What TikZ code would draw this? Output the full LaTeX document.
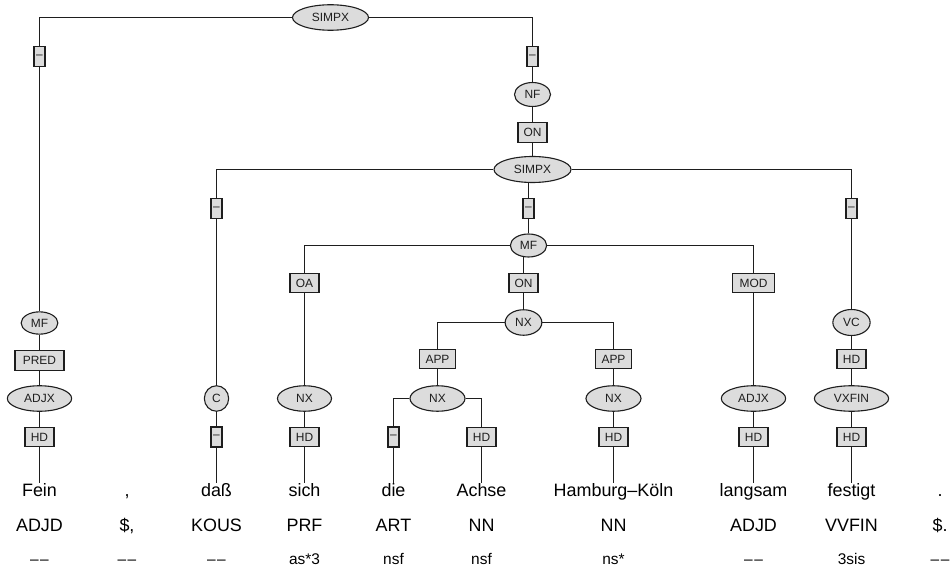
\documentclass[tikz,border=0pt]{standalone}
\usepackage{fontspec}
\setmainfont{Liberation Sans}
\usetikzlibrary{shapes.geometric,backgrounds}
\definecolor{nodefill}{RGB}{220,220,220}
\definecolor{ink}{RGB}{30,30,30}
\tikzset{
  cat/.style={ellipse, draw=ink, fill=nodefill, line width=1.1bp, inner sep=0pt,
    minimum height=25.5bp, font=\fontsize{12}{14}\selectfont, text=ink},
  fn/.style={rectangle, draw=ink, fill=nodefill, line width=1.1bp, inner sep=0pt,
    minimum width=29bp, minimum height=19.5bp, font=\fontsize{12}{14}\selectfont, text=ink},
  dashbox/.style={fn, minimum width=11bp, minimum height=20bp},
  word/.style={anchor=base, inner sep=0pt, text height=13bp, text depth=4bp,
    font=\fontsize{18}{20}\selectfont},
  postag/.style={anchor=base, inner sep=0pt, font=\fontsize{18}{20}\selectfont},
  morph/.style={anchor=base, inner sep=0pt, font=\fontsize{15.5}{18}\selectfont},
  edge/.style={draw=ink, line width=1.1bp}
}
\begin{document}
\begin{tikzpicture}[x=1bp, y=-1bp]
\useasboundingbox (0,0) rectangle (950,572);
% top level
\node[cat, minimum width=76bp] (s1) at (330.5,17.5) {SIMPX};
\node[dashbox] (d1) at (39.5,56.5) {–};
\node[dashbox] (d2) at (532.5,56.5) {–};
\node[cat, minimum width=36bp, minimum height=24bp] (nf) at (532.5,94.5) {NF};
\node[fn] (on1) at (532.5,132.5) {ON};
\node[cat, minimum width=77bp, minimum height=26bp] (s2) at (532.5,169.5) {SIMPX};
% left column
\node[cat, minimum width=36.7bp, minimum height=22.3bp] (mf1) at (39.5,323) {MF};
\node[fn, minimum width=49bp] (pred) at (39.5,360.5) {PRED};
\node[cat, minimum width=64.3bp] (adjx1) at (39.5,398.5) {ADJX};
\node[fn] (hd1) at (39.5,437) {HD};
% dass column
\node[dashbox] (d3) at (216.5,208.5) {–};
\node[cat, minimum width=24.3bp] (c) at (216.5,398.5) {C};
\node[dashbox] (d4) at (216.5,437) {–};
% middle
\node[dashbox] (d5) at (528.5,208.5) {–};
\node[cat, minimum width=36.3bp, minimum height=23bp] (mf2) at (528.5,245.5) {MF};
\node[fn] (oa) at (304.5,283) {OA};
\node[cat, minimum width=54bp] (nx1) at (304.5,398.5) {NX};
\node[fn] (hd2) at (304.5,437) {HD};
\node[fn] (on2) at (523.5,283) {ON};
\node[cat, minimum width=36.7bp] (nx2) at (523.5,322.5) {NX};
\node[fn, minimum width=36.7bp] (app1) at (437.5,359) {APP};
\node[cat, minimum width=55bp] (nx3) at (437.5,398.5) {NX};
\node[dashbox] (d6) at (393.5,437) {–};
\node[fn] (hd3) at (481.5,437) {HD};
\node[fn, minimum width=36.7bp] (app2) at (613.5,359) {APP};
\node[cat, minimum width=55bp] (nx4) at (613.5,398.5) {NX};
\node[fn] (hd4) at (613.5,437) {HD};
\node[fn, minimum width=42.7bp] (mod) at (753.5,283) {MOD};
\node[cat, minimum width=64.3bp] (adjx2) at (753.5,398.5) {ADJX};
\node[fn] (hd5) at (753.5,437) {HD};
% right column
\node[dashbox] (d7) at (851.5,208.5) {–};
\node[cat, minimum width=37.3bp, minimum height=26bp] (vc) at (851.5,322.5) {VC};
\node[fn] (hd6) at (851.5,359) {HD};
\node[cat, minimum width=74.3bp] (vxfin) at (851.5,398.5) {VXFIN};
\node[fn] (hd7) at (851.5,437) {HD};
% words
\node[word] (w1) at (39.5,496.5) {Fein};
\node[word] (w2) at (127,496.5) {,};
\node[word] (w3) at (216.5,496.5) {daß};
\node[word] (w4) at (304.5,496.5) {sich};
\node[word] (w5) at (393.5,496.5) {die};
\node[word] (w6) at (481.5,496.5) {Achse};
\node[word] (w7) at (613.5,496.5) {Hamburg–Köln};
\node[word] (w8) at (753.5,496.5) {langsam};
\node[word] (w9) at (851.5,496.5) {festigt};
\node[word] (w10) at (940,496.5) {.};
% POS
\node[postag] (p1) at (39.5,531.7) {ADJD};
\node[postag] (p2) at (127,531.7) {\$,};
\node[postag] (p3) at (216.5,531.7) {KOUS};
\node[postag] (p4) at (304.5,531.7) {PRF};
\node[postag] (p5) at (393.5,531.7) {ART};
\node[postag] (p6) at (481.5,531.7) {NN};
\node[postag] (p7) at (613.5,531.7) {NN};
\node[postag] (p8) at (753.5,531.7) {ADJD};
\node[postag] (p9) at (851.5,531.7) {VVFIN};
\node[postag] (p10) at (940,531.7) {\$.};
% morphology
\node[morph] (m1) at (39.5,564) {–\kern1.5bp–};
\node[morph] (m2) at (127,564) {–\kern1.5bp–};
\node[morph] (m3) at (216.5,564) {–\kern1.5bp–};
\node[morph] (m4) at (304.5,564) {as*3};
\node[morph] (m5) at (393.5,564) {nsf};
\node[morph] (m6) at (481.5,564) {nsf};
\node[morph] (m7) at (613.5,564) {ns*};
\node[morph] (m8) at (753.5,564) {–\kern1.5bp–};
\node[morph] (m9) at (851.5,564) {3sis};
\node[morph] (m10) at (940,564) {–\kern1.5bp–};
% connectors
\begin{pgfonlayer}{background}
\fill[white] (0,0) rectangle (950,572);
\draw[edge] (d1) |- (s1) -| (d2);
\draw[edge] (d1) -- (mf1) -- (pred) -- (adjx1) -- (hd1) -- (hd1 |- w1.north);
\draw[edge] (d2) -- (nf) -- (on1) -- (s2);
\draw[edge] (d3) |- (s2) -| (d7);
\draw[edge] (d5) -- (d5 |- s2);
\draw[edge] (d5) -- (mf2);
\draw[edge] (d3) -- (c) -- (d4) -- (d4 |- w3.north);
\draw[edge] (oa) |- (mf2) -| (mod);
\draw[edge] (on2) -- (on2 |- mf2);
\draw[edge] (on2) -- (nx2);
\draw[edge] (oa) -- (nx1) -- (hd2) -- (hd2 |- w4.north);
\draw[edge] (app1) |- (nx2) -| (app2);
\draw[edge] (app1) -- (nx3);
\draw[edge] (d6) |- (nx3) -| (hd3);
\draw[edge] (d6) -- (d6 |- w5.north);
\draw[edge] (hd3) -- (hd3 |- w6.north);
\draw[edge] (app2) -- (nx4) -- (hd4) -- (hd4 |- w7.north);
\draw[edge] (mod) -- (adjx2) -- (hd5) -- (hd5 |- w8.north);
\draw[edge] (d7) -- (vc) -- (hd6) -- (vxfin) -- (hd7) -- (hd7 |- w9.north);
\end{pgfonlayer}
\end{tikzpicture}
\end{document}
